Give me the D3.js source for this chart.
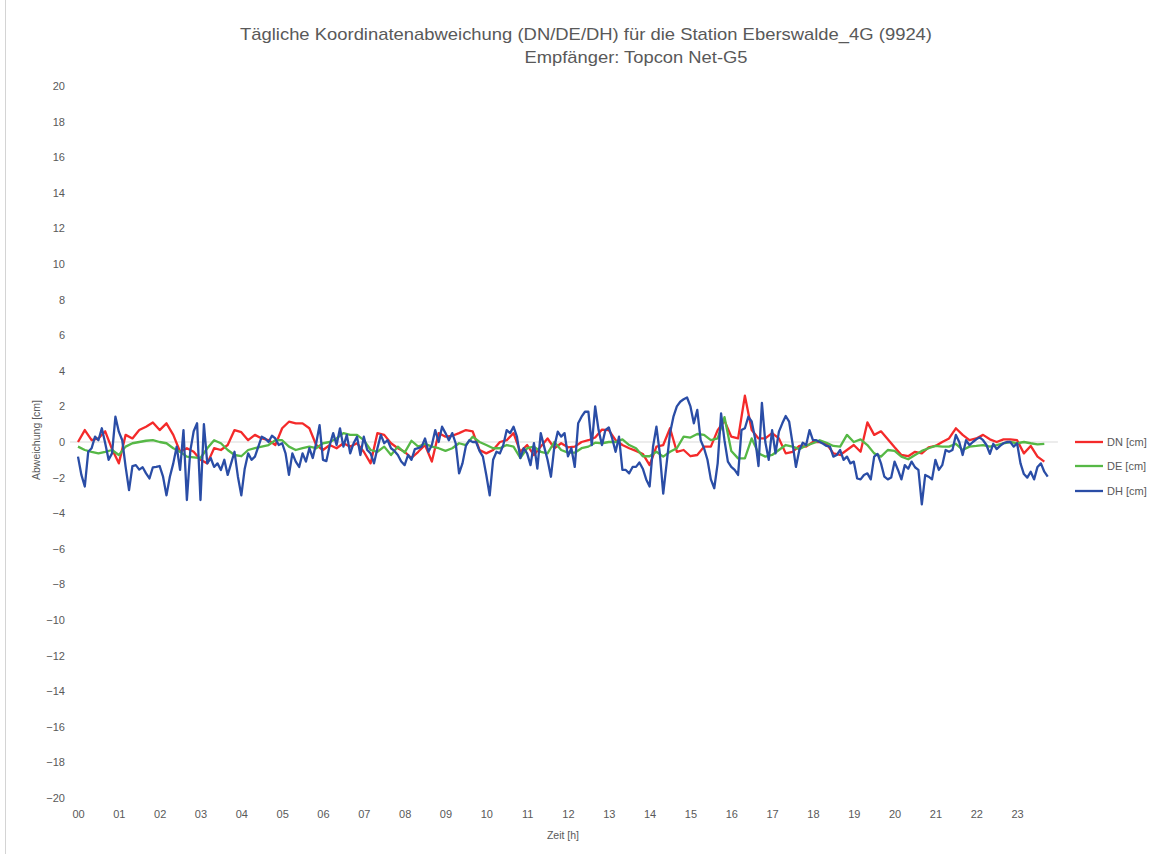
<!DOCTYPE html>
<html><head><meta charset="utf-8">
<script src="https://cdn.jsdelivr.net/npm/d3@7"></script>
<style>
html,body{margin:0;padding:0;background:#fff;}
text{font-family:"Liberation Sans Narrow","Liberation Sans","DejaVu Sans Condensed",sans-serif;fill:#595959;}
</style></head>
<body>
<svg id="chart" width="1149" height="854"></svg>
<script>
// ---- data ----
const hourLabels = ["00","01","02","03","04","05","06","07","08","09","10","11","12","13","14","15","16","17","18","19","20","21","22","23"];
const yTicks = [-20,-18,-16,-14,-12,-10,-8,-6,-4,-2,0,2,4,6,8,10,12,14,16,18,20];
const seriesNames = ["DN [cm]","DE [cm]","DH [cm]"];
const stepMinutesDN = 10, stepMinutesDE = 10, stepMinutesDH = 5;

// DN, 10-minute steps from 00:00
const DN = [0,0.67,0.1,0.2,0.6,-0.4,-1.2,0.4,0.2,0.67,0.86,1.1,0.67,1.05,0.4,-0.55,-0.35,-0.55,-1.0,-1.2,
-0.35,-0.45,-0.17,0.67,0.55,0.1,0.4,0.2,0.1,-0.17,0.77,1.14,1.05,1.05,0.77,-0.17,-0.45,-0.17,-0.35,-0.07,
-0.26,-0.07,-0.55,-1.2,0.5,0.4,-0.07,-0.35,-0.55,-0.9,-0.55,-0.17,-1.1,0.5,0.3,0.35,0.5,0.67,0.6,-0.45,
-0.64,-0.45,0,0.1,0.5,-0.55,-0.17,-0.73,-0.26,0.2,-0.35,-0.07,-0.3,-0.26,0,0.1,0.25,0.7,0.67,0.1,
-0.17,-0.35,-0.5,-0.67,-1.3,-0.26,-0.17,0.77,-0.55,-0.45,-0.8,-0.73,-0.26,-0.26,0.67,1.2,0.3,0.2,2.6,0.67,
0.2,0.2,0.5,0.2,-0.64,-0.55,-0.22,-0.26,0,0,-0.1,-0.64,-0.73,-0.45,-0.17,-0.55,1.1,0.4,0.6,0.15,
-0.3,-0.73,-0.8,-0.55,-0.64,-0.3,-0.22,0,0.2,0.77,0.4,0.1,0.2,0.4,0.15,0,0.15,0.15,0.1,-0.64,
-0.22,-0.82,-1.1];

// DE, 10-minute steps from 00:00
const DE = [-0.26,-0.45,-0.55,-0.64,-0.55,-0.45,-0.73,-0.26,-0.07,0,0.07,0.1,0,-0.07,-0.35,-0.55,-0.82,-0.86,-0.9,-0.35,
0.1,-0.07,-0.45,-0.73,-0.8,-0.45,-0.35,-0.26,-0.17,0.1,0.1,-0.26,-0.45,-0.35,-0.26,-0.35,-0.07,0,0.2,0.5,
0.4,0.4,0.1,-0.45,-0.55,-0.26,-0.73,-0.26,-0.6,0.07,-0.26,-0.1,-0.26,-0.35,-0.5,-0.35,-0.07,-0.17,0.3,0,
-0.17,-0.35,-0.35,-0.17,-0.26,-0.9,-0.35,-0.26,-0.55,-0.64,0,-0.45,-0.6,-0.6,-0.35,-0.26,-0.04,-0.07,0,0,
0.15,-0.17,-0.35,-0.8,-0.8,-0.55,-0.82,-0.55,-0.35,0.3,0.25,0.45,0.4,0.1,0.2,1.4,-0.5,-0.92,-0.92,0.2,
-0.64,-0.82,-0.73,-0.45,-0.17,-0.26,-0.4,-0.2,-0.07,0.1,-0.04,-0.22,-0.26,0.4,0,0.15,-0.17,-0.64,-0.82,-0.45,
-0.5,-0.82,-0.97,-0.73,-0.5,-0.35,-0.22,-0.26,-0.26,-0.1,-0.45,-0.26,-0.22,-0.17,-0.26,-0.17,-0.07,0,-0.07,0,
-0.07,-0.13,-0.1];

// DH, 5-minute steps from 00:00
const DH = [
-0.82,-1.85,-2.5,-0.55,-0.35,0.3,0.1,0.77,-0.07,-1.0,
-0.64,1.42,0.58,0.1,-1.4,-2.7,-1.35,-1.3,-1.55,-1.42,
-1.76,-2.05,-1.42,-1.4,-1.35,-1.95,-3.0,-1.95,-1.2,-0.26,
-1.57,0.67,-3.26,-0.5,0.6,1.05,-3.26,1.0,-1.2,-0.9,
-1.4,-1.2,-1.57,-1.0,-1.85,-1.2,-0.55,-1.95,
-3.0,-1.5,-0.64,-1.0,-0.82,-0.26,0.3,0.2,0,0.35,
0.2,-0.17,-0.07,-0.64,-1.85,-0.64,-1.1,-1.4,-0.64,-1.1,
-0.35,-0.9,-0.07,0.95,-1.0,-1.07,-0.17,0.5,-0.17,0.77,
-0.26,0.4,-0.64,-0.07,0.3,-0.73,0.3,-0.45,-0.64,-1.2,
-0.35,0.4,-0.07,0.1,-0.35,-0.5,-0.73,-1.1,
-1.3,-0.73,-1.0,-0.4,-0.35,-0.26,0.2,-0.55,-0.17,0.67,
0,0.86,0.5,0.1,0.5,-0.07,-1.76,-1.2,-0.22,0.1,
0,0,-0.5,-0.82,-1.85,-3.0,-1.0,-0.55,-0.64,-0.17,
0.67,0.5,0.86,0.3,-0.9,-0.35,-0.64,-1.3,-0.07,-1.5,
0.5,-0.26,-1.0,-1.95,-0.26,0.58,0.3,0.5,
-0.8,-0.35,-1.4,1.05,1.42,1.7,1.7,-0.17,2.0,0.67,
-0.17,0.67,0.82,0.2,-0.55,0.3,-1.57,-1.57,-1.76,-1.4,
-1.4,-1.15,-1.5,-2.1,-2.5,-0.26,0.86,-0.64,-2.9,-1.2,
0.5,1.42,2.0,2.26,2.4,2.5,2.0,1.05,1.8,0.1,
-0.35,-1.0,-2.1,-2.6,-1.2,1.6,0.1,-1.1,
-1.4,-1.57,-1.85,0.67,0.77,1.42,1.15,0.2,-1.35,2.2,
0.0,-1.0,0.67,-0.64,0.58,1.05,1.46,1.15,-0.07,-1.4,
-0.45,-0.04,-0.17,0.67,0.1,0.1,0,-0.1,-0.22,-0.26,
-0.82,-0.73,-0.45,-1.0,-0.82,-1.2,-1.1,-2.05,-2.1,-1.85,
-1.76,-2.1,-0.82,-0.67,-1.2,-1.95,-2.1,-2.0,
-1.1,-1.57,-2.1,-1.3,-1.5,-1.1,-1.42,-1.57,-3.5,-1.85,
-1.95,-2.1,-1.0,-1.57,-1.3,-0.45,-0.55,-0.45,0.4,0,
-0.73,0.1,-0.17,0,0.15,0.26,0.1,-0.17,-0.67,-0.1,
-0.4,-0.22,-0.07,0,0,-0.26,-0.07,-1.2,-1.8,-2.0,
-1.67,-2.1,-1.4,-1.2,-1.67,-1.95];

const colors = ["#f42a2a","#56b846","#2a4da6"];

// ---- drawing ----
const svg = d3.select("#chart");
svg.append("rect").attr("width",1149).attr("height",854).attr("fill","#fff");
svg.append("line").attr("x1",5.5).attr("x2",5.5).attr("y1",0).attr("y2",854).attr("stroke","#d4d4d4");

const x = d3.scaleLinear().domain([0,24]).range([78, 78 + 24*40.83]);
const y = d3.scaleLinear().domain([-20,20]).range([798, 86]);

// zero line
svg.append("line").attr("x1",x(0)-8).attr("x2",x(24)).attr("y1",y(0)).attr("y2",y(0))
  .attr("stroke","#d9d9d9").attr("stroke-width",1);

// y axis labels
const yAxis = d3.axisLeft(y).tickValues(yTicks).tickSize(0).tickPadding(0).tickFormat(d3.format("d"));
const gy = svg.append("g").attr("transform","translate(65,0)").call(yAxis);
gy.select(".domain").remove();
gy.selectAll("text").attr("font-size",11).style("fill","#595959")
  .style("font-family","'Liberation Sans',sans-serif");

// x axis labels
const xAxis = d3.axisBottom(x).tickValues(d3.range(hourLabels.length)).tickSize(0).tickPadding(0)
  .tickFormat(i => hourLabels[i]);
const gx = svg.append("g").attr("transform","translate(0,810)").call(xAxis);
gx.select(".domain").remove();
gx.selectAll("text").attr("font-size",11).style("fill","#595959")
  .style("font-family","'Liberation Sans',sans-serif");

// series
const mkLine = step => d3.line().x((d,i)=>x(i*step/60)).y(d=>y(d));
[[DN,stepMinutesDN],[DE,stepMinutesDE],[DH,stepMinutesDH]].forEach(([s,step],k)=>{
  svg.append("path").datum(s).attr("d",mkLine(step)).attr("fill","none")
    .attr("stroke",colors[k]).attr("stroke-width",2.3).attr("stroke-linejoin","round");
});

// titles
svg.append("text").attr("x",586).attr("y",40).attr("text-anchor","middle").attr("font-size",17)
  .attr("textLength",692).attr("lengthAdjust","spacingAndGlyphs")
  .text("Tägliche Koordinatenabweichung (DN/DE/DH) für die Station Eberswalde_4G (9924)");
svg.append("text").attr("x",636).attr("y",63).attr("text-anchor","middle").attr("font-size",17)
  .attr("textLength",223).attr("lengthAdjust","spacingAndGlyphs")
  .text("Empfänger: Topcon Net-G5");

// axis titles
svg.append("text").attr("transform","translate(40,440) rotate(-90)").attr("text-anchor","middle")
  .attr("font-size",10.5).text("Abweichung [cm]");
svg.append("text").attr("x",563).attr("y",839).attr("text-anchor","middle")
  .attr("font-size",10.5).text("Zeit [h]");

// legend
const legY = [442,466,491];
seriesNames.forEach((n,k)=>{
  svg.append("line").attr("x1",1075).attr("x2",1103).attr("y1",legY[k]).attr("y2",legY[k])
    .attr("stroke",colors[k]).attr("stroke-width",2.3);
  svg.append("text").attr("x",1107).attr("y",legY[k]).attr("dy","0.35em")
    .attr("font-size",11).text(n);
});
</script>
</body></html>
